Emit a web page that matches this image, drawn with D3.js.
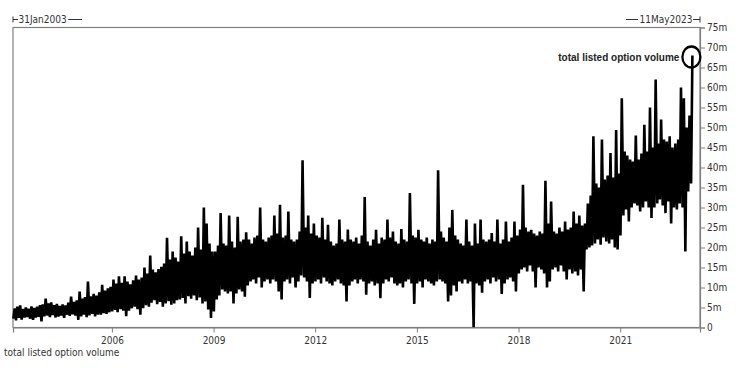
<!DOCTYPE html>
<html>
<head>
<meta charset="utf-8">
<script src="https://cdn.jsdelivr.net/npm/d3@7"></script>
<style>
  body { margin: 0; background: #fff; }
  svg { display: block; }
  .lbl { font-family: "DejaVu Sans Condensed", "DejaVu Sans", sans-serif; font-size: 10px; fill: #333; }
  .note { font-family: "Liberation Sans", Arial, sans-serif; font-size: 10px; font-weight: bold; fill: #222; }
</style>
</head>
<body>
<div id="graf"></div>
<script>
// monthly column extents (millions), first row starts Feb 2003
const high = [
  [4.8, 5.2, 5.5, 4.6, 5.0, 4.7, 5.3, 4.9, 5.2, 5.6, 5.8],
  [7.2, 6.0, 6.3, 5.6, 5.9, 5.4, 5.8, 5.5, 6.2, 7.7, 6.4, 6.8],
  [9.0, 7.2, 7.6, 11.5, 7.8, 8.4, 8.0, 8.8, 10.7, 9.2, 9.8, 10.2],
  [12.0, 11.0, 12.8, 11.2, 12.8, 11.5, 10.8, 11.8, 13.0, 12.0, 12.5, 15.0],
  [13.5, 18.0, 14.5, 13.8, 14.6, 15.2, 16.0, 22.4, 17.0, 19.0, 17.5, 16.5],
  [22.8, 18.5, 21.5, 19.0, 18.0, 20.0, 25.0, 19.5, 30.0, 26.0, 21.0, 19.0],
  [19.0, 20.5, 28.6, 21.0, 20.5, 28.0, 21.5, 20.0, 27.7, 21.5, 22.0, 23.8],
  [22.0, 21.0, 22.5, 23.0, 30.0, 22.0, 21.5, 22.5, 23.0, 28.0, 23.5, 30.7],
  [22.5, 23.0, 29.0, 22.0, 21.5, 22.0, 24.0, 41.8, 25.0, 28.0, 23.5, 26.0],
  [23.0, 22.5, 27.4, 22.0, 25.7, 21.5, 20.5, 21.0, 27.0, 22.0, 21.5, 24.5],
  [22.0, 21.5, 22.5, 21.0, 23.0, 32.6, 21.5, 20.5, 22.0, 24.4, 21.0, 22.5],
  [22.0, 27.0, 22.5, 24.0, 21.5, 21.0, 24.6, 22.0, 21.5, 33.6, 23.0, 22.5],
  [24.4, 22.0, 21.5, 22.5, 21.0, 22.0, 21.5, 39.3, 24.0, 22.5, 21.5, 25.0],
  [29.4, 23.0, 22.0, 21.0, 20.5, 27.0, 21.5, 20.5, 26.0, 21.0, 27.0, 22.0],
  [21.5, 22.0, 23.6, 21.5, 27.0, 21.0, 22.0, 26.5, 21.5, 22.5, 26.5, 23.0],
  [24.5, 35.7, 25.0, 24.0, 24.4, 23.5, 23.0, 24.0, 23.5, 36.7, 26.0, 31.5],
  [24.0, 23.5, 25.0, 24.0, 26.5, 24.5, 25.0, 29.0, 26.0, 28.0, 25.5, 26.0],
  [31.0, 33.0, 47.8, 36.0, 35.0, 47.0, 37.0, 38.0, 43.6, 37.5, 49.4, 38.5],
  [57.3, 44.0, 43.0, 42.0, 41.5, 48.0, 42.0, 43.5, 50.7, 44.0, 55.0, 45.0],
  [62.0, 46.0, 52.0, 47.0, 46.5, 47.8, 45.0, 46.0, 47.0, 60.0, 57.3, 50.0],
  [53.0, 68.0]
]
const low = [
  [2.2, 1.8, 2.4, 2.0, 2.5, 2.6, 2.2, 1.9, 2.5, 2.7, 1.5],
  [2.8, 3.0, 2.6, 3.1, 2.5, 2.7, 3.0, 2.4, 3.2, 2.9, 3.3, 3.0],
  [1.9, 2.8, 3.2, 2.6, 3.0, 3.4, 2.8, 3.2, 3.2, 3.6, 3.4, 3.8],
  [4.0, 4.4, 3.8, 4.6, 4.2, 2.8, 4.2, 4.8, 5.2, 4.6, 3.2, 4.8],
  [5.6, 5.2, 6.2, 6.8, 5.8, 6.4, 5.2, 6.0, 6.6, 5.7, 6.0, 6.8],
  [7.0, 7.4, 6.0, 7.8, 7.2, 8.0, 6.8, 7.5, 6.0, 6.5, 4.5, 2.4],
  [4.0, 7.0, 8.0, 9.5, 9.0, 8.5, 9.0, 6.0, 8.5, 9.5, 9.0, 7.7],
  [10.5, 11.5, 12.0, 11.0, 12.5, 10.0, 11.5, 12.0, 11.0, 12.0, 11.5, 9.0],
  [7.0, 11.5, 12.0, 11.0, 12.5, 10.0, 11.5, 13.0, 12.5, 11.5, 7.4, 11.0],
  [11.5, 12.0, 11.0, 12.5, 11.5, 11.0, 10.5, 11.5, 12.0, 11.0, 10.5, 6.5],
  [10.5, 11.5, 12.0, 11.0, 12.0, 11.5, 8.2, 11.0, 11.5, 10.5, 11.0, 7.3],
  [11.0, 12.0, 11.5, 12.5, 11.0, 10.5, 11.0, 10.0, 11.5, 12.0, 11.0, 5.9],
  [11.0, 11.5, 10.0, 12.0, 11.5, 11.0, 10.5, 11.5, 12.0, 11.5, 11.0, 6.5],
  [8.0, 10.5, 9.0, 11.5, 11.0, 12.0, 11.0, 11.5, 0.0, 11.0, 10.5, 8.7],
  [11.5, 12.0, 11.0, 12.5, 11.5, 12.0, 8.4, 11.0, 12.0, 12.5, 11.5, 9.0],
  [13.5, 14.5, 15.0, 14.0, 15.5, 14.0, 10.0, 15.0, 14.5, 13.5, 10.0, 11.5],
  [14.5, 15.0, 14.0, 15.5, 14.0, 12.0, 14.5, 13.5, 14.0, 13.0, 14.5, 9.0],
  [19.5, 20.0, 20.5, 21.0, 22.0, 20.7, 22.5, 21.5, 21.0, 22.0, 20.0, 19.5],
  [23.0, 28.0, 29.5, 26.5, 30.0, 31.0, 30.5, 29.0, 30.0, 31.5, 30.0, 27.4],
  [30.0, 31.0, 32.0, 30.5, 28.6, 31.5, 26.0, 30.0, 29.5, 31.0, 30.0, 19.0],
  [34.0, 36.0]
]
const firstYear = 2003
const startDate = new Date(2003, 0, 31)
const endDate = new Date(2023, 4, 11)
const yTicks = d3.range(0, 80, 5)
const xTicks = [2006, 2009, 2012, 2015, 2018, 2021]
const seriesName = "total listed option volume"

const anchoTotal = 740
const altoTotal = 371
const margins = { left: 13, top: 27.5, right: 40, bottom: 43.5 }
const ancho = anchoTotal - margins.left - margins.right
const alto = altoTotal - margins.top - margins.bottom

const svg = d3.select("#graf")
  .append("svg")
  .attr("width", anchoTotal)
  .attr("height", altoTotal)

const g = svg.append("g")
  .attr("transform", `translate(${margins.left}, ${margins.top})`)

const x = d3.scaleTime().domain([startDate, endDate]).range([0, ancho])
const y = d3.scaleLinear().domain([0, 75]).range([alto, 0])

// zigzag through each month's low and high
const puntos = []
high.forEach((fila, yi) => {
  fila.forEach((h, mi) => {
    const mes = yi == 0 ? mi + 1 : mi
    puntos.push({ date: new Date(firstYear + yi, mes, 4), v: low[yi][mi] })
    puntos.push({ date: new Date(firstYear + yi, mes, 18), v: h })
  })
})

// frame
g.append("rect")
  .attr("x", 0).attr("y", 0)
  .attr("width", ancho).attr("height", alto)
  .attr("fill", "none")
  .attr("stroke", "#808080")
  .attr("stroke-width", 1.2)

const linea = d3.line().x((d) => x(d.date)).y((d) => y(d.v))

g.append("path")
  .datum(puntos)
  .attr("d", linea)
  .attr("fill", "none")
  .attr("stroke", "#000")
  .attr("stroke-width", 2.6)
  .attr("stroke-linejoin", "bevel")

// right axis
const yAxis = d3.axisRight(y)
  .tickValues(yTicks)
  .tickSize(5)
  .tickPadding(2)
  .tickFormat((d) => (d == 0 ? "0" : d + "m"))
const ejeY = g.append("g")
  .attr("transform", `translate(${ancho}, 0)`)
  .call(yAxis)
ejeY.select(".domain").attr("stroke", "#808080").attr("stroke-width", 1.2)
ejeY.selectAll(".tick line").attr("stroke", "#808080")
ejeY.selectAll("text").attr("class", "lbl").attr("fill", null)
  .attr("font-family", null).attr("font-size", null)

// bottom axis
const xAxis = d3.axisBottom(x)
  .tickValues(xTicks.map((a) => new Date(a, 0, 1)))
  .tickSize(5)
  .tickPadding(4)
  .tickFormat(d3.timeFormat("%Y"))
const ejeX = g.append("g")
  .attr("transform", `translate(0, ${alto})`)
  .call(xAxis)
ejeX.select(".domain").attr("stroke", "#808080").attr("stroke-width", 1.2)
ejeX.selectAll(".tick line").attr("stroke", "#808080")
ejeX.selectAll("text").attr("class", "lbl").attr("fill", null)
  .attr("font-family", null).attr("font-size", null)

// date range markers on top
const fmt = d3.timeFormat("%d%b%Y")
const topY = -8
g.append("line").attr("x1", 0).attr("x2", 0).attr("y1", topY - 3).attr("y2", topY + 3)
  .attr("stroke", "#333")
g.append("line").attr("x1", 0).attr("x2", 5).attr("y1", topY).attr("y2", topY).attr("stroke", "#333")
const t1 = g.append("text").attr("class", "lbl").attr("x", 5.5).attr("y", topY + 3.5)
  .text(fmt(startDate))
const w1 = t1.node().getComputedTextLength()
g.append("line").attr("x1", 7 + w1).attr("x2", 69).attr("y1", topY).attr("y2", topY).attr("stroke", "#333")

g.append("line").attr("x1", ancho).attr("x2", ancho).attr("y1", topY - 3).attr("y2", topY + 3)
  .attr("stroke", "#333")
g.append("line").attr("x1", ancho - 7).attr("x2", ancho).attr("y1", topY).attr("y2", topY).attr("stroke", "#333")
const t2 = g.append("text").attr("class", "lbl").attr("x", ancho - 7.5).attr("y", topY + 3.5)
  .attr("text-anchor", "end")
  .text(fmt(endDate))
const w2 = t2.node().getComputedTextLength()
g.append("line").attr("x1", ancho - 74).attr("x2", ancho - 9 - w2).attr("y1", topY).attr("y2", topY).attr("stroke", "#333")

// last value annotation
const ultimo = puntos[puntos.length - 1]
g.append("ellipse")
  .attr("cx", x(ultimo.date) - 1)
  .attr("cy", y(ultimo.v) + 1.5)
  .attr("rx", 9)
  .attr("ry", 10.5)
  .attr("fill", "none")
  .attr("stroke", "#000")
  .attr("stroke-width", 2.3)
g.append("text")
  .attr("class", "note")
  .attr("x", x(ultimo.date) - 13)
  .attr("y", y(ultimo.v) + 5)
  .attr("text-anchor", "end")
  .text(seriesName)

svg.append("text")
  .attr("class", "lbl")
  .attr("x", 4)
  .attr("y", 356)
  .text(seriesName)
</script>
</body>
</html>
